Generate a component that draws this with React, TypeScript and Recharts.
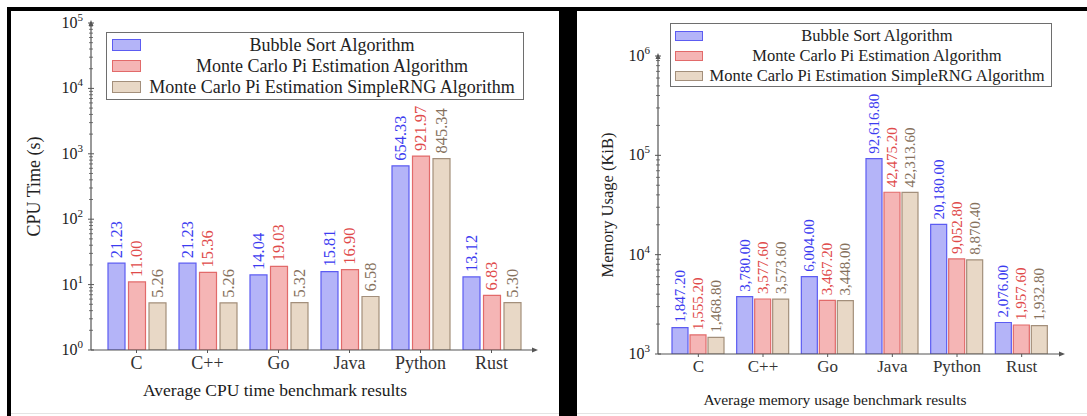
import React from 'react';
import { BarChart, Bar, XAxis, YAxis, Legend, LabelList } from 'recharts';

const languages = ['C', 'C++', 'Go', 'Java', 'Python', 'Rust'];
const seriesNames = [
  'Bubble Sort Algorithm',
  'Monte Carlo Pi Estimation Algorithm',
  'Monte Carlo Pi Estimation SimpleRNG Algorithm',
];

// CPU time (s)
const cpuBubble = [21.23, 21.23, 14.04, 15.81, 654.33, 13.12];
const cpuMonteCarlo = [11.0, 15.36, 19.03, 16.9, 921.97, 6.83];
const cpuSimpleRng = [5.26, 5.26, 5.32, 6.58, 845.34, 5.3];

// memory usage (KiB)
const memBubble = [1847.2, 3780.0, 6004.0, 92616.8, 20180.0, 2076.0];
const memMonteCarlo = [1555.2, 3577.6, 3467.2, 42475.2, 9052.8, 1957.6];
const memSimpleRng = [1468.8, 3573.6, 3448.0, 42313.6, 8870.4, 1932.8];

const cpuDecades = [1, 10, 100, 1000, 10000, 100000];
const memDecades = [1000, 10000, 100000, 1000000];
const minorSteps = [2, 3, 4, 5, 6, 7, 8, 9];

const SERIF = '"Liberation Serif", "Times New Roman", serif';
const AXIS = '#555';

const palette = [
  { fill: '#b4b4f8', stroke: '#5c5cf2', text: '#3c3cf0' },
  { fill: '#f5b5b5', stroke: '#e26a6a', text: '#e04a4a' },
  { fill: '#e8d8c6', stroke: '#a38f7b', text: '#86715d' },
];
const keys = ['a', 'b', 'c'];

const cpuData = languages.map((lang, i) => ({ lang, a: cpuBubble[i], b: cpuMonteCarlo[i], c: cpuSimpleRng[i] }));
const memData = languages.map((lang, i) => ({ lang, a: memBubble[i], b: memMonteCarlo[i], c: memSimpleRng[i] }));

const logTicks = (decades: number[]) =>
  decades.flatMap((d, i) => (i < decades.length - 1 ? [d, ...minorSteps.map((m) => m * d)] : [d]));

const fmtCpu = (v: number) => v.toFixed(2);
const fmtMem = (v: number) => v.toLocaleString('en-US', { minimumFractionDigits: 2, maximumFractionDigits: 2 });

const LogTick = (props: any) => {
  const { x, y, payload } = props;
  const exp = Math.log10(payload.value);
  const major = Math.abs(exp - Math.round(exp)) < 1e-9;
  if (!major) {
    return <line x1={x - 2} x2={x + 2} y1={y} y2={y} stroke={AXIS} strokeWidth={0.8} />;
  }
  return (
    <g>
      <line x1={x - 3} x2={x + 3} y1={y} y2={y} stroke={AXIS} strokeWidth={1} />
      <text x={x - 8} y={y + 5} textAnchor="end" fontFamily={SERIF} fontSize={16} fill="#222">
        10<tspan dy={-7} fontSize={11}>{Math.round(exp)}</tspan>
      </text>
    </g>
  );
};

const makeBarLabel = (color: string, fontSize: number, fmt: (v: number) => string) => (props: any) => {
  const { x, y, width, value } = props;
  const cx = Number(x) + Number(width) / 2;
  const ty = Number(y) - 5;
  return (
    <text
      x={cx}
      y={ty}
      transform={`rotate(-90 ${cx} ${ty})`}
      textAnchor="start"
      dominantBaseline="central"
      fill={color}
      fontSize={fontSize}
      fontFamily={SERIF}
    >
      {fmt(Number(value))}
    </text>
  );
};

type Box = { left: number; top: number; width: number; height: number; fontSize: number; rowTop: number; rowStep: number; swatchLeft: number; swatchW: number; swatchH: number };

const LegendBox = ({ box }: { box: Box }) => (
  <div
    style={{
      width: box.width,
      height: box.height,
      border: '1.3px solid #6e6e6e',
      boxSizing: 'border-box',
      background: '#fff',
      position: 'relative',
      fontFamily: SERIF,
      fontSize: box.fontSize,
      color: '#222',
    }}
  >
    {seriesNames.map((name, i) => (
      <div
        key={name}
        style={{
          position: 'absolute',
          left: 0,
          right: 0,
          top: box.rowTop + i * box.rowStep - box.rowStep / 2 - 1,
          height: box.rowStep,
          display: 'flex',
          alignItems: 'center',
        }}
      >
        <span
          style={{
            marginLeft: box.swatchLeft,
            width: box.swatchW,
            height: box.swatchH,
            background: palette[i].fill,
            border: `1.3px solid ${palette[i].stroke}`,
            boxSizing: 'border-box',
            flex: 'none',
          }}
        />
        <span style={{ flex: 1, textAlign: 'center', whiteSpace: 'nowrap', lineHeight: 1 }}>{name}</span>
      </div>
    ))}
  </div>
);

type PanelProps = {
  left: number;
  width: number;
  height: number;
  data: any[];
  decades: number[];
  margin: { top: number; right: number; bottom: number; left: number };
  yWidth: number;
  padding: { left: number; right: number };
  barSize: number;
  barGap: number;
  labelFont: number;
  catFont: number;
  catDy: number;
  fmt: (v: number) => string;
  yTitle: string;
  yTitleX: number;
  yTitleFont: number;
  xTitle: string;
  xTitleX: number;
  xTitleY: number;
  xTitleFont: number;
  legend: Box;
};

const Panel = (p: PanelProps) => {
  const plotTop = p.margin.top;
  const plotBottom = p.height - p.margin.bottom - 50;
  const axisX = p.margin.left + p.yWidth;
  const plotRight = p.width - p.margin.right;
  return (
    <div style={{ position: 'absolute', left: p.left, top: 11, width: p.width, height: p.height }}>
      <BarChart width={p.width} height={p.height} data={p.data} margin={p.margin} barSize={p.barSize} barGap={p.barGap}>
        <XAxis
          dataKey="lang"
          height={50}
          padding={p.padding}
          axisLine={{ stroke: AXIS, strokeWidth: 1.2 }}
          tickLine={{ stroke: AXIS }}
          tickSize={3}
          tickMargin={0}
          tick={(t: any) => (
            <text x={t.x} y={t.y + p.catDy} textAnchor="middle" fontFamily={SERIF} fontSize={p.catFont} fill="#333">
              {t.payload.value}
            </text>
          )}
          label={{
            content: () => (
              <text x={p.xTitleX} y={p.xTitleY} textAnchor="middle" fontFamily={SERIF} fontSize={p.xTitleFont} fill="#1a1a1a">
                {p.xTitle}
              </text>
            ),
          }}
        />
        <YAxis
          type="number"
          scale="log"
          domain={[p.decades[0], p.decades[p.decades.length - 1]]}
          allowDataOverflow
          ticks={logTicks(p.decades)}
          interval={0}
          width={p.yWidth}
          axisLine={{ stroke: AXIS, strokeWidth: 1.2 }}
          tickLine={false}
          tickSize={0}
          tickMargin={0}
          tick={<LogTick />}
          label={{
            content: () => {
              const cy = (plotTop + plotBottom) / 2;
              return (
                <text
                  x={p.yTitleX}
                  y={cy}
                  transform={`rotate(-90 ${p.yTitleX} ${cy})`}
                  textAnchor="middle"
                  dominantBaseline="central"
                  fontFamily={SERIF}
                  fontSize={p.yTitleFont}
                  fill="#222"
                >
                  {p.yTitle}
                </text>
              );
            },
          }}
        />
        <Legend
          layout="horizontal"
          verticalAlign="middle"
          align="center"
          wrapperStyle={{ left: p.legend.left, top: p.legend.top, width: p.legend.width, height: p.legend.height }}
          content={() => <LegendBox box={p.legend} />}
        />
        {keys.map((k, i) => (
          <Bar
            key={k}
            dataKey={k}
            name={seriesNames[i]}
            fill={palette[i].fill}
            stroke={palette[i].stroke}
            strokeWidth={1.2}
            isAnimationActive={false}
          >
            <LabelList dataKey={k} content={makeBarLabel(palette[i].text, p.labelFont, p.fmt)} />
          </Bar>
        ))}
      </BarChart>
      <svg width={p.width} height={p.height} style={{ position: 'absolute', left: 0, top: 0, pointerEvents: 'none' }}>
        <path d={`M${axisX},${plotTop - 3} L${axisX - 2.5},${plotTop + 3} L${axisX + 2.5},${plotTop + 3} Z`} fill={AXIS} />
        <path d={`M${plotRight + 3},${plotBottom} L${plotRight - 3},${plotBottom - 2.5} L${plotRight - 3},${plotBottom + 2.5} Z`} fill={AXIS} />
      </svg>
    </div>
  );
};

const App = () => (
  <div style={{ position: 'absolute', left: 0, top: 0, width: 1087, height: 416, background: '#fff', overflow: 'hidden' }}>
    <div style={{ position: 'absolute', left: 11, top: 413, width: 1076, height: 1, background: '#e4e4e4' }} />
    <Panel
      left={11}
      width={548}
      height={402}
      data={cpuData}
      decades={cpuDecades}
      margin={{ top: 12, right: 24, bottom: 13, left: 0 }}
      yWidth={80}
      padding={{ left: 10, right: 8 }}
      barSize={17}
      barGap={3.5}
      labelFont={16.5}
      catFont={18}
      catDy={16}
      fmt={fmtCpu}
      yTitle="CPU Time (s)"
      yTitleX={23}
      yTitleFont={18}
      xTitle="Average CPU time benchmark results"
      xTitleX={264}
      xTitleY={385}
      xTitleFont={17.5}
      legend={{ left: 95, top: 21, width: 418, height: 68, fontSize: 18, rowTop: 13, rowStep: 21, swatchLeft: 5, swatchW: 29, swatchH: 12 }}
    />
    <Panel
      left={577}
      width={510}
      height={402}
      data={memData}
      decades={memDecades}
      margin={{ top: 45, right: 25, bottom: 9, left: 0 }}
      yWidth={81}
      padding={{ left: 8, right: 8 }}
      barSize={16}
      barGap={2}
      labelFont={15}
      catFont={17}
      catDy={15}
      fmt={fmtMem}
      yTitle="Memory Usage (KiB)"
      yTitleX={30}
      yTitleFont={16.5}
      xTitle="Average memory usage benchmark results"
      xTitleX={258}
      xTitleY={394}
      xTitleFont={15.5}
      legend={{ left: 93, top: 12, width: 382, height: 64, fontSize: 16.5, rowTop: 13, rowStep: 20, swatchLeft: 4, swatchW: 28, swatchH: 10 }}
    />
    <div style={{ position: 'absolute', left: 7, top: 7, width: 1080, height: 4, background: '#000' }} />
    <div style={{ position: 'absolute', left: 7, top: 7, width: 4, height: 409, background: '#000' }} />
    <div style={{ position: 'absolute', left: 559, top: 7, width: 18, height: 409, background: '#000' }} />
  </div>
);

export default App;
